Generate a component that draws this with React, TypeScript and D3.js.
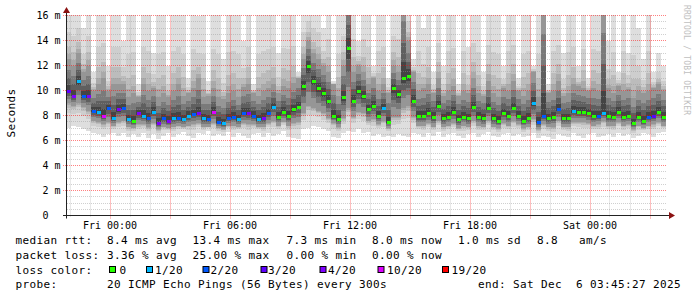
import React from 'react';
import * as d3 from 'd3';

// ---- data (15-minute buckets, starting Thu 21:48 UTC) ----
const START = Date.UTC(2025, 11, 4, 21, 48);
const END = Date.UTC(2025, 11, 6, 3, 48);
const STEP_MIN = 15;

const median = [
  10.0, 9.6, 10.8, 9.6, 9.6, 8.4, 8.3, 8.0, 8.6, 7.8,
  8.5, 8.6, 7.7, 7.6, 8.2, 8.0, 7.8, 8.3, 7.4, 7.8,
  7.6, 7.8, 7.8, 7.7, 8.0, 8.1, 8.2, 7.8, 7.7, 8.3,
  7.5, 7.4, 7.8, 7.9, 7.7, 8.2, 8.2, 8.0, 7.7, 7.8,
  8.2, 8.7, 7.9, 8.3, 8.0, 8.5, 8.7, 10.4, 12.0, 10.8,
  10.2, 9.8, 9.2, 8.0, 7.7, 9.5, 13.4, 9.2, 10.0, 9.6,
  8.5, 8.8, 8.0, 8.6, 7.5, 10.2, 9.7, 11.0, 11.2, 9.2,
  8.0, 8.0, 8.2, 7.9, 8.8, 7.8, 7.9, 8.3, 7.7, 7.9,
  7.8, 8.7, 7.9, 7.8, 8.6, 7.8, 7.6, 8.2, 8.0, 8.6,
  8.0, 7.6, 7.8, 9.0, 7.5, 8.0, 7.8, 7.9, 8.5, 7.8,
  7.8, 8.4, 8.3, 8.3, 8.2, 8.0, 8.0, 8.2, 8.0, 7.9,
  8.3, 7.9, 8.0, 7.4, 7.9, 7.6, 7.9, 8.0, 8.3, 7.9,
];

const lossCount = [
  3, 4, 1, 2, 4, 2, 1, 5, 2, 1,
  4, 2, 1, 0, 4, 1, 2, 1, 4, 2,
  4, 1, 2, 1, 1, 2, 4, 1, 2, 5,
  2, 1, 2, 2, 1, 2, 4, 2, 1, 4,
  2, 1, 0, 0, 0, 0, 0, 0, 0, 0,
  0, 0, 0, 0, 0, 0, 0, 0, 0, 0,
  0, 0, 0, 1, 0, 0, 0, 0, 0, 0,
  0, 0, 0, 0, 0, 0, 0, 0, 0, 0,
  0, 0, 0, 0, 0, 0, 0, 0, 0, 0,
  0, 0, 0, 1, 2, 2, 0, 0, 2, 0,
  0, 1, 0, 0, 0, 0, 2, 1, 0, 0,
  0, 0, 0, 0, 0, 0, 2, 3, 0, 0,
];

const pingMin = [
  7.0, 7.2, 7.1, 6.9, 6.8, 6.6, 6.5, 6.3, 6.5, 6.6,
  6.4, 6.6, 6.3, 6.5, 6.3, 6.6, 6.2, 6.5, 6.1, 6.4,
  6.6, 6.3, 6.5, 6.7, 6.4, 6.2, 6.6, 6.5, 6.8, 6.4,
  6.5, 6.4, 6.7, 6.3, 6.6, 6.4, 6.2, 6.5, 6.6, 6.3,
  6.6, 6.4, 6.5, 6.8, 6.3, 6.2, 6.1, 6.9, 7.0, 7.2,
  7.1, 6.9, 6.8, 6.3, 6.2, 6.6, 6.8, 6.7, 6.9, 6.6,
  6.7, 6.4, 6.5, 6.3, 6.4, 6.3, 6.5, 6.4, 6.3, 6.6,
  6.5, 6.3, 6.6, 6.4, 6.7, 6.3, 6.5, 6.6, 6.4, 6.2,
  6.5, 6.6, 6.3, 6.5, 6.7, 6.4, 6.3, 6.5, 6.6, 6.4,
  6.5, 6.3, 6.4, 6.6, 6.2, 6.4, 6.3, 6.1, 6.5, 6.4,
  6.3, 6.6, 6.4, 6.2, 6.5, 6.6, 6.3, 6.4, 6.5, 6.3,
  6.6, 6.4, 6.5, 6.2, 6.4, 6.6, 6.5, 6.3, 6.6, 6.7,
];

const pingLowQ = [
  9.0, 8.8, 9.0, 8.7, 8.4, 7.6, 7.5, 7.3, 7.5, 7.2,
  7.5, 7.6, 7.1, 7.0, 7.3, 7.3, 7.1, 7.4, 6.9, 7.1,
  7.0, 7.1, 7.2, 7.1, 7.2, 7.3, 7.4, 7.1, 7.1, 7.4,
  7.0, 6.9, 7.2, 7.2, 7.1, 7.4, 7.3, 7.3, 7.1, 7.1,
  7.4, 7.6, 7.2, 7.5, 7.2, 7.4, 7.5, 8.2, 8.8, 8.6,
  8.4, 8.2, 7.8, 7.4, 7.1, 7.8, 8.6, 7.9, 8.3, 8.2,
  7.6, 7.7, 7.3, 7.6, 7.0, 7.9, 7.9, 8.6, 8.8, 7.9,
  7.2, 7.2, 7.4, 7.1, 7.6, 7.1, 7.2, 7.4, 7.0, 7.2,
  7.1, 7.6, 7.2, 7.1, 7.6, 7.1, 7.0, 7.4, 7.2, 7.6,
  7.3, 7.0, 7.1, 7.7, 6.9, 7.3, 7.1, 7.1, 7.6, 7.1,
  7.1, 7.5, 7.5, 7.5, 7.4, 7.2, 7.3, 7.6, 7.2, 7.2,
  7.5, 7.2, 7.3, 6.9, 7.2, 7.0, 7.2, 7.3, 7.5, 7.2,
];

const pingHighQ = [
  12.5, 12.0, 13.0, 11.5, 12.0, 10.0, 10.5, 11.0, 10.0, 10.5,
  10.5, 10.5, 9.5, 9.8, 9.5, 10.5, 10.0, 10.2, 9.5, 9.8,
  9.5, 10.0, 10.5, 9.6, 9.8, 10.2, 11.0, 9.5, 9.6, 10.2,
  9.5, 9.3, 9.8, 10.0, 9.5, 10.3, 10.5, 9.8, 9.6, 10.0,
  10.2, 10.5, 9.8, 10.4, 10.2, 10.6, 11.0, 12.5, 14.0, 13.0,
  12.5, 12.0, 11.5, 10.5, 9.6, 12.0, 18.0, 11.5, 12.0, 11.5,
  10.5, 11.0, 10.0, 10.5, 9.8, 12.0, 11.5, 18.0, 14.0, 11.5,
  10.0, 10.2, 10.5, 9.8, 11.0, 9.6, 10.0, 10.4, 9.6, 10.0,
  9.8, 11.0, 9.8, 9.6, 10.8, 9.8, 9.5, 10.2, 10.0, 10.8,
  10.0, 9.6, 10.0, 11.5, 9.5, 18.0, 9.8, 10.0, 10.8, 9.6,
  9.8, 10.5, 10.4, 10.2, 10.0, 10.2, 10.0, 18.0, 10.2, 9.8,
  10.4, 10.0, 10.1, 9.4, 10.0, 9.8, 10.0, 10.2, 10.5, 10.0,
];

const pingMax = [
  18, 18, 18, 15, 18, 11.5, 18, 18, 12, 18,
  18, 14, 18, 18, 10.5, 18, 18, 13, 18, 18,
  12, 18, 18, 18, 11, 18, 16, 18, 10.8, 18,
  18, 12.5, 18, 18, 18, 14, 18, 10.5, 18, 18,
  18, 18, 13, 18, 18, 18, 11.5, 18, 18, 18,
  18, 15, 18, 10.8, 18, 18, 18, 18, 14, 18,
  18, 12, 18, 18, 11, 18, 18, 18, 18, 12.5,
  18, 15, 18, 11.5, 18, 12, 18, 18, 10.5, 18,
  13.5, 18, 18, 11.5, 18, 18, 18, 12, 18, 18,
  11, 18, 18, 12, 18, 18, 10.5, 18, 18, 13,
  18, 18, 12, 18, 11, 18, 18, 18, 14, 18,
  11.5, 18, 13, 18, 15, 12.5, 18, 11.5, 13, 12,
];

const yTickValues = [0, 2, 4, 6, 8, 10, 12, 14, 16];
const yTickLabels = ['0', '2 m', '4 m', '6 m', '8 m', '10 m', '12 m', '14 m', '16 m'];

const lossThresholds = [0, 1, 2, 3, 4, 10, 19];
const lossLabels = ['0', '1/20', '2/20', '3/20', '4/20', '10/20', '19/20'];
const lossColors = ['#26ff00', '#00b8ff', '#0059ff', '#5e00ff', '#7e00ff', '#dd00ff', '#ff0000'];

const rttStats = ['8.4 ms avg', '13.4 ms max', '7.3 ms min', '8.0 ms now', '1.0 ms sd', '8.8', 'am/s'];
const lossStats = ['3.36 % avg', '25.00 % max', '0.00 % min', '0.00 % now'];
const probeText = '20 ICMP Echo Pings (56 Bytes) every 300s';
const endText = 'end: Sat Dec\u00a0\u00a06 03:45:27 2025';

// ---- layout ----
const W = 697;
const H = 297;
const PLOT_L = 66;
const PLOT_R = 666;
const PLOT_T = 15.5;
const PLOT_B = 215.5;
const MONO = "'DejaVu Sans Mono', monospace";

const rttX = [107, 192.5, 286.5, 372, 458, 537, 579];
const lossX = [107, 192.5, 286.5, 372];
const swatchX = [109, 146, 202.5, 260.5, 319.5, 377.5, 442];
const swatchLabelX = [119.5, 155, 210.5, 268, 328, 387, 451.5];

// smoke shading layers (outer: between extremes and quartiles, inner: quartiles to median)
const outerGrays = [222, 206, 188, 170];
const outerT = [0, 0.6, 0.82, 0.93];
const innerGrays = [150, 122, 95, 68];
const innerT = [0, 0.35, 0.6, 0.82];

function lossColor(n: number) {
  for (let k = 0; k < lossThresholds.length; k++) {
    if (n <= lossThresholds[k]) return lossColors[k];
  }
  return lossColors[lossColors.length - 1];
}

export default function App() {
  const times = median.map((_, i) => new Date(START + i * STEP_MIN * 60000));
  const x = d3.scaleUtc().domain([new Date(START), new Date(END)]).range([PLOT_L, PLOT_R]);
  const y = d3.scaleLinear().domain([0, 16]).range([PLOT_B, PLOT_T]);
  const stepEnd = (i: number) => x(new Date(START + (i + 1) * STEP_MIN * 60000));

  const smoke: React.ReactNode[] = [];
  outerT.forEach((t, k) => {
    times.forEach((d, i) => {
      const lo = pingMin[i] + (pingLowQ[i] - pingMin[i]) * t;
      const hi = pingMax[i] + (pingHighQ[i] - pingMax[i]) * t;
      const x0 = x(d);
      const g = outerGrays[k];
      smoke.push(
        <rect key={`o${k}-${i}`} x={x0} width={stepEnd(i) - x0} y={y(hi)} height={y(lo) - y(hi)}
          fill={`rgb(${g},${g},${g})`} shapeRendering="crispEdges" />
      );
    });
  });
  innerT.forEach((t, k) => {
    times.forEach((d, i) => {
      const lo = pingLowQ[i] + (median[i] - pingLowQ[i]) * t;
      const hi = pingHighQ[i] + (median[i] - pingHighQ[i]) * t;
      const x0 = x(d);
      const g = innerGrays[k];
      smoke.push(
        <rect key={`i${k}-${i}`} x={x0} width={stepEnd(i) - x0} y={y(hi)} height={y(lo) - y(hi)}
          fill={`rgb(${g},${g},${g})`} shapeRendering="crispEdges" />
      );
    });
  });

  const minorY = d3.range(0, 16.01, 0.5).filter((v) => v % 2 !== 0);
  const minorX = d3.utcHour.every(1)!.range(new Date(START), new Date(END)).filter((d) => d.getUTCHours() % 3 !== 0);
  const majorX = d3.utcHour.every(3)!.range(new Date(START), new Date(END));
  const labelX = d3.utcHour.every(6)!.range(new Date(START), new Date(END));
  const fmt = d3.utcFormat('%a %H:%M');
  const px = (v: number) => Math.floor(v) + 0.5;

  return (
    <svg width={W} height={H} style={{ position: 'absolute', left: 0, top: 0, background: '#fff' }}
      fontFamily={MONO}>
      <defs>
        <clipPath id="plot">
          <rect x={PLOT_L} y={PLOT_T - 0.5} width={PLOT_R - PLOT_L} height={PLOT_B - PLOT_T} />
        </clipPath>
      </defs>
      <rect x={0} y={0} width={W} height={H} fill="#fff" />

      <g clipPath="url(#plot)">{smoke}</g>

      {/* minor grid */}
      <g stroke="rgb(150,150,150)" strokeOpacity={0.45} strokeDasharray="1,1" strokeWidth={1}>
        {minorY.map((v) => (
          <line key={`my${v}`} x1={PLOT_L + 1} x2={PLOT_R + 1} y1={px(y(v))} y2={px(y(v))} />
        ))}
        {minorX.map((d) => (
          <line key={`mx${+d}`} x1={px(x(d))} x2={px(x(d))} y1={PLOT_T} y2={PLOT_B + 2} />
        ))}
      </g>
      {/* major grid */}
      <g stroke="rgb(255,0,0)" strokeOpacity={0.5} strokeDasharray="1,1" strokeWidth={1}>
        {yTickValues.filter((v) => v > 0).map((v) => (
          <line key={`My${v}`} x1={PLOT_L - 3} x2={PLOT_R + 1} y1={px(y(v))} y2={px(y(v))} />
        ))}
        {majorX.map((d) => (
          <line key={`Mx${+d}`} x1={px(x(d))} x2={px(x(d))} y1={PLOT_T} y2={PLOT_B + 3} />
        ))}
      </g>

      {/* median marks coloured by loss */}
      <g>
        {times.map((d, i) => (
          <rect key={`m${i}`} x={Math.round(x(d)) + 1} width={4} y={Math.round(y(median[i])) - 1.5} height={3}
            fill={lossColor(lossCount[i])} shapeRendering="crispEdges" />
        ))}
      </g>

      {/* axes */}
      <line x1={PLOT_L - 3} x2={669} y1={PLOT_B} y2={PLOT_B} stroke="#222" />
      <line x1={PLOT_L + 0.5} x2={PLOT_L + 0.5} y1={PLOT_B + 3} y2={12} stroke="#222" />
      <path d={`M669,212 L675,215.5 L669,219 Z`} fill="#8b1212" />
      <path d={`M63,13 L66.5,7 L70,13 Z`} fill="#8b1212" />

      {/* y tick labels */}
      <g fontSize={10} fill="#000" textAnchor="end">
        {yTickValues.map((v, k) => (
          <text key={`yl${v}`} x={v === 0 ? 48.5 : 60.5} y={y(v) + 3.6}>{yTickLabels[k]}</text>
        ))}
      </g>
      {/* x tick labels */}
      <g fontSize={10} fill="#000" textAnchor="middle">
        {labelX.map((d) => (
          <text key={`xl${+d}`} x={x(d)} y={228.5}>{fmt(d)}</text>
        ))}
      </g>

      <text transform="translate(14.5,113) rotate(-90)" textAnchor="middle" fontSize={11} letterSpacing={0.38} fill="#000">Seconds</text>
      <text transform="translate(684,5) rotate(90)" fontSize={8} letterSpacing={0.2} fill="#c0c0c0">RRDTOOL / TOBI OETIKER</text>

      {/* legend */}
      <g fontSize={11} letterSpacing={0.38} fill="#000">
        <text x={15.5} y={244}>median rtt:</text>
        {rttStats.map((s, k) => (<text key={`r${k}`} x={rttX[k]} y={244}>{s}</text>))}
        <text x={15.5} y={259}>packet loss:</text>
        {lossStats.map((s, k) => (<text key={`p${k}`} x={lossX[k]} y={259}>{s}</text>))}
        <text x={15.5} y={273.5}>loss color:</text>
        {lossLabels.map((s, k) => (
          <g key={`lc${k}`}>
            <rect x={swatchX[k] + 0.5} y={266.5} width={6} height={6} fill={lossColors[k]} stroke="#000" />
            <text x={swatchLabelX[k]} y={273.5}>{s}</text>
          </g>
        ))}
        <text x={15.5} y={288}>probe:</text>
        <text x={107} y={288}>{probeText}</text>
        <text x={478} y={288}>{endText}</text>
      </g>
    </svg>
  );
}
